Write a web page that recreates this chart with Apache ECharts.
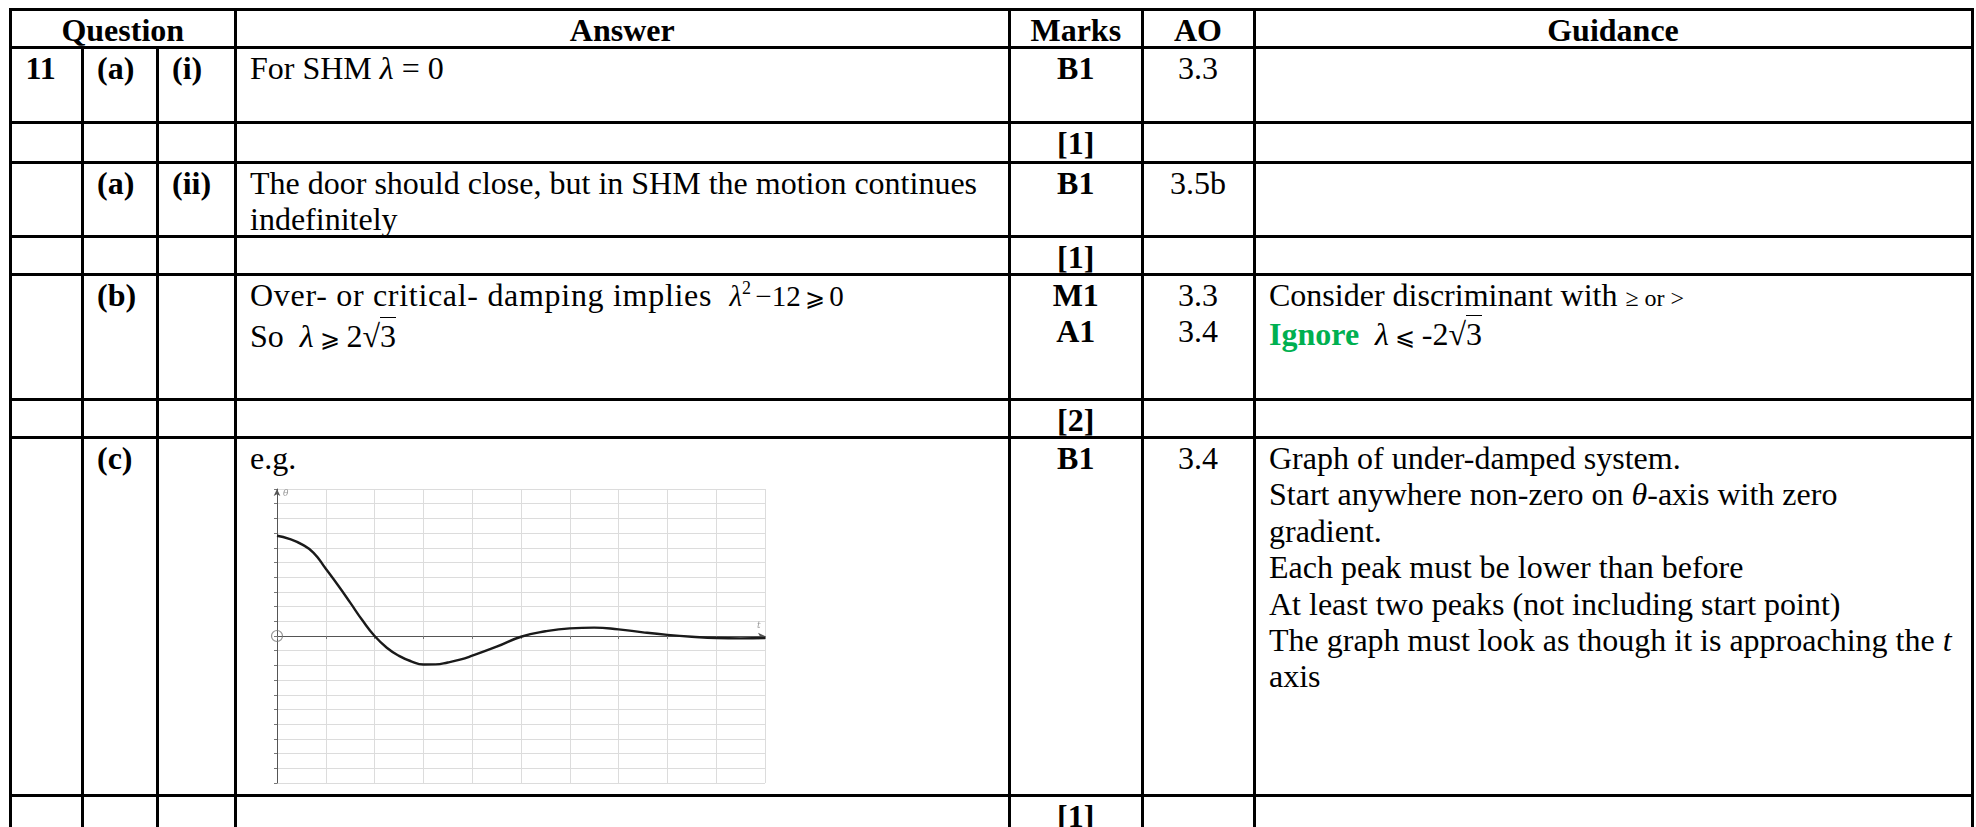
<!DOCTYPE html>
<html>
<head>
<meta charset="utf-8">
<script src="https://cdn.jsdelivr.net/npm/echarts@6/dist/echarts.min.js"></script>
<style>
html, body { margin: 0; padding: 0; background: #fff; }
body {
  width: 1976px; height: 827px; overflow: hidden; position: relative;
  font-family: "Liberation Serif", "Times New Roman", serif;
  font-size: 32px; line-height: 36.4px; color: #000;
}
.ln { position: absolute; background: #000; }
.c { position: absolute; white-space: nowrap; }
.b { font-weight: bold; }
.sup { font-size: 18px; position: relative; top: -12px; }
.rt { border-top: 1.5px solid #000; }
.sym { font-size: 24px; }
.ge { font-family: "DejaVu Serif", serif; font-size: 24px; }
.mth { font-size: 29px; word-spacing: -3px; }
.g { color: #00b050; font-weight: bold; }
.ws { letter-spacing: 0.7px; }
#graph { position: absolute; left: 262px; top: 478px; width: 520px; height: 314px; }
</style>
</head>
<body>
<div id="graph"></div>
<script>
// 曲线数据（从图上读出来的 t, θ）
var tValues = [0, 0.25, 0.5, 0.75, 1, 1.25, 1.5, 1.75, 2, 2.25, 2.5, 2.75, 3, 3.25, 3.5, 3.75, 4,
  4.5, 5, 5.5, 6, 6.5, 7, 7.5, 8, 8.5, 9, 9.5, 10];
var thetaValues = [6.82, 6.61, 6.25, 5.66, 4.57, 3.45, 2.27, 1.07, 0, -0.8, -1.35, -1.72, -1.94, -1.93, -1.8, -1.61, -1.34,
  -0.73, -0.05, 0.32, 0.52, 0.57, 0.45, 0.25, 0.08, -0.05, -0.14, -0.16, -0.14];
var originPoint = [0, 0];
var tRange = [0, 10];
var thetaRange = [-10, 10];

// 表格线位置
var colX = [10.5, 82, 157, 235, 1009.5, 1142, 1254, 1972];
var rowY = [9.5, 47.5, 122, 162, 236, 274.5, 399.5, 437.5, 795.5];

var body = document.body;
function line(l, t, w, h) {
  var d = document.createElement('div');
  d.className = 'ln';
  d.style.left = l + 'px'; d.style.top = t + 'px';
  d.style.width = w + 'px'; d.style.height = h + 'px';
  body.appendChild(d);
}
rowY.forEach(function (y) { line(9, y - 1.5, 1965, 3); });
colX.forEach(function (x, i) {
  var top = (i == 1 || i == 2) ? rowY[1] : 8;
  line(x - 1.5, top, 3, 840 - top);
});

// 单元格文字
function cell(c0, c1, r, html, cls, center) {
  var d = document.createElement('div');
  d.className = 'c ' + (cls || '');
  d.style.top = (rowY[r] + 2.5) + 'px';
  if (center) {
    d.style.left = colX[c0] + 'px';
    d.style.width = (colX[c1] - colX[c0]) + 'px';
    d.style.textAlign = 'center';
  } else {
    d.style.left = (colX[c0] + 15) + 'px';
  }
  d.innerHTML = html;
  body.appendChild(d);
}
var lam = '<i>λ</i>';
var root3 = '√<span class="rt">3</span>';

cell(0, 3, 0, 'Question', 'b', true);
cell(3, 4, 0, 'Answer', 'b', true);
cell(4, 5, 0, 'Marks', 'b', true);
cell(5, 6, 0, 'AO', 'b', true);
cell(6, 7, 0, 'Guidance', 'b', true);

cell(0, 1, 1, '11', 'b');
cell(1, 2, 1, '(a)', 'b');
cell(2, 3, 1, '(i)', 'b');
cell(3, 4, 1, 'For SHM ' + lam + ' = 0');
cell(4, 5, 1, 'B1', 'b', true);
cell(5, 6, 1, '3.3', '', true);

cell(4, 5, 2, '[1]', 'b', true);

cell(1, 2, 3, '(a)', 'b');
cell(2, 3, 3, '(ii)', 'b');
cell(3, 4, 3, 'The door should close, but in SHM the motion continues<br>indefinitely');
cell(4, 5, 3, 'B1', 'b', true);
cell(5, 6, 3, '3.5b', '', true);

cell(4, 5, 4, '[1]', 'b', true);

cell(1, 2, 5, '(b)', 'b');
cell(3, 4, 5, '<span class="ws">Over- or critical- damping implies&nbsp; </span><span class="mth">' + lam + '<span class="sup">2</span> −12 <span class="ge">⩾</span> 0</span><br>So&nbsp; ' + lam + '&thinsp;<span class="ge">⩾</span>&thinsp;2' + root3);
cell(4, 5, 5, 'M1<br>A1', 'b', true);
cell(5, 6, 5, '3.3<br>3.4', '', true);
cell(6, 7, 5, 'Consider discriminant with <span class="sym">≥ or &gt;</span><br><span class="g">Ignore</span>&nbsp; ' + lam + '&thinsp;<span class="ge">⩽</span>&thinsp;-2' + root3);

cell(4, 5, 6, '[2]', 'b', true);

cell(1, 2, 7, '(c)', 'b');
cell(3, 4, 7, 'e.g.');
cell(4, 5, 7, 'B1', 'b', true);
cell(5, 6, 7, '3.4', '', true);
cell(6, 7, 7, 'Graph of under-damped system.<br>Start anywhere non-zero on <i>θ</i>-axis with zero<br>gradient.<br>Each peak must be lower than before<br>At least two peaks (not including start point)<br>The graph must look as though it is approaching the <i>t</i><br>axis');

cell(4, 5, 8, '[1]', 'b', true);

// 小图 echarts
var chartDom = document.getElementById('graph');
var myChart = echarts.init(chartDom);
var curve = tValues.map(function (t, i) { return [t, thetaValues[i]]; });
var option = {
  animation: false,
  textStyle: { fontFamily: 'DejaVu Serif' },
  grid: { left: 15, right: 17, top: 11, bottom: 9 },
  xAxis: {
    type: 'value', min: tRange[0], max: tRange[1], interval: 1,
    name: 't', nameLocation: 'end', nameGap: -8,
    nameTextStyle: { color: '#999', fontSize: 9, fontStyle: 'italic', verticalAlign: 'bottom', padding: [0, 0, 6, 0] },
    axisLabel: { show: false },
    axisLine: { show: true, onZero: true, symbol: ['none', 'arrow'], symbolSize: [5, 7], lineStyle: { color: '#555', width: 1 } },
    axisTick: { show: true, length: 3, lineStyle: { color: '#777' } },
    splitLine: { show: true, lineStyle: { color: '#dcdcdc', width: 1 } }
  },
  yAxis: {
    type: 'value', min: thetaRange[0], max: thetaRange[1], interval: 1,
    name: 'θ', nameLocation: 'end', nameGap: -9,
    nameTextStyle: { color: '#999', fontSize: 9, fontStyle: 'italic', align: 'left', verticalAlign: 'bottom', padding: [0, 0, 0, 6] },
    axisLabel: { show: false },
    axisLine: { show: true, onZero: false, symbol: ['none', 'arrow'], symbolSize: [5, 7], lineStyle: { color: '#555', width: 1 } },
    axisTick: { show: true, length: 3, lineStyle: { color: '#777' } },
    splitLine: { show: true, lineStyle: { color: '#dcdcdc', width: 1 } }
  },
  series: [
    {
      type: 'line', data: curve, smooth: 0.5, symbol: 'none',
      lineStyle: { color: '#1a1a1a', width: 2.4 }
    },
    {
      type: 'scatter', data: [originPoint], symbol: 'circle', symbolSize: 11,
      itemStyle: { color: 'rgba(0,0,0,0)', borderColor: '#777', borderWidth: 1.2 }
    }
  ]
};
option && myChart.setOption(option);
</script>
</body>
</html>
